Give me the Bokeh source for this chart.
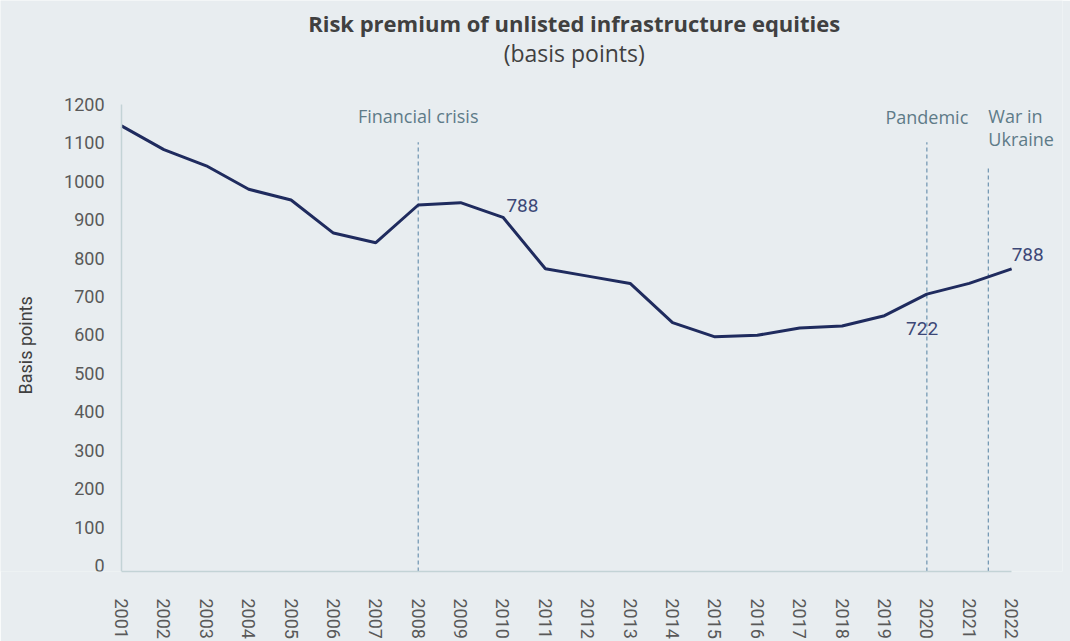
import math
from bokeh.plotting import figure
from bokeh.models import Range1d, FixedTicker, Label
from bokeh.embed import file_html
from bokeh.resources import INLINE

years = list(range(2001, 2023))
premium = [1144, 1082, 1040, 979, 951, 865, 840, 938, 944, 906, 772, 753,
           734, 632, 595, 599, 618, 623, 650, 706, 734, 772]
y_ticks = list(range(0, 1300, 100))
events = ["Financial crisis", "Pandemic", "War in\nUkraine"]
event_years = [2008, 2020, 2021.45]
event_tops = [1101, 1101, 1036]
value_labels = ["788", "722", "788"]
title = "Risk premium of unlisted infrastructure equities"
subtitle = "(basis points)"
y_title = "Basis points"

Y0, Y1 = -15.6, 1200
BG = "#e8edf0"
p = figure(width=1070, height=641, output_backend="svg", toolbar_location=None,
           x_range=Range1d(1998.145, 2023.2), y_range=Range1d(Y0, 1470.1),
           min_border_left=0, min_border_right=8, min_border_top=0,
           min_border_bottom=69, background_fill_color=BG, border_fill_color=BG,
           outline_line_color=None)
p.grid.visible = False

for ax in (p.xaxis[0], p.yaxis[0]):
    ax.axis_line_color = "#c3d3d6"
    ax.axis_line_width = 1.5
    ax.major_tick_line_color = None
    ax.minor_tick_line_color = None
    ax.major_label_text_font = "Roboto"
    ax.major_label_text_font_size = "18px"
    ax.major_label_text_color = "#595959"

p.xaxis.ticker = FixedTicker(ticks=years)
p.xaxis.bounds = (years[0], years[-1])
p.xaxis.major_label_orientation = "vertical"
p.xaxis.major_label_standoff = 21
p.yaxis.ticker = FixedTicker(ticks=y_ticks)
p.yaxis.bounds = (Y0, Y1)
p.yaxis.fixed_location = years[0]
p.yaxis.major_label_standoff = 11

p.add_layout(Label(x=1998.735, y=572.7, text=y_title, angle=math.pi / 2,
                   text_align="center", text_baseline="middle", text_font="Roboto",
                   text_font_size="18px", text_color="#404040"))

# event lines
for ey, top in zip(event_years, event_tops):
    p.segment(x0=[ey], y0=[Y0], x1=[ey], y1=[top], line_color="#6d93b0",
              line_width=1.2, line_dash="4 3")

p.line(years, premium, line_color="#1f2b5e", line_width=3)

ev_color = "#5e7b88"
ev_kw = dict(text_font="Open Sans", text_font_size="18px", text_color=ev_color,
             text_baseline="alphabetic")
p.add_layout(Label(x=event_years[0], y=1169, text=events[0], text_align="center", **ev_kw))
p.add_layout(Label(x=event_years[1], y=1166, text=events[1], text_align="center", **ev_kw))
war_lines = events[2].split("\n")
p.add_layout(Label(x=event_years[2], y=1169, text=war_lines[0], text_align="left", **ev_kw))
p.add_layout(Label(x=event_years[2], y=1109, text=war_lines[1], text_align="left", **ev_kw))

val_color = "#3d4877"
for txt, lx, ly in zip(value_labels, [2010.08, 2019.51, 2022.0], [938, 616, 808]):
    p.add_layout(Label(x=lx, y=ly, text=txt, text_align="left", text_font="Roboto",
                       text_font_size="19px", text_color=val_color,
                       text_baseline="alphabetic"))

p.add_layout(Label(x=2011.68, y=1410.4, text=title, text_align="center",
                   text_baseline="alphabetic", text_font="Open Sans",
                   text_font_style="bold", text_font_size="22px", text_color="#404040"))
p.add_layout(Label(x=2011.68, y=1333.8, text=subtitle, text_align="center",
                   text_baseline="alphabetic", text_font="Open Sans",
                   text_font_size="23px", text_color="#404040"))

open("out.html", "w").write(file_html(p, INLINE))
